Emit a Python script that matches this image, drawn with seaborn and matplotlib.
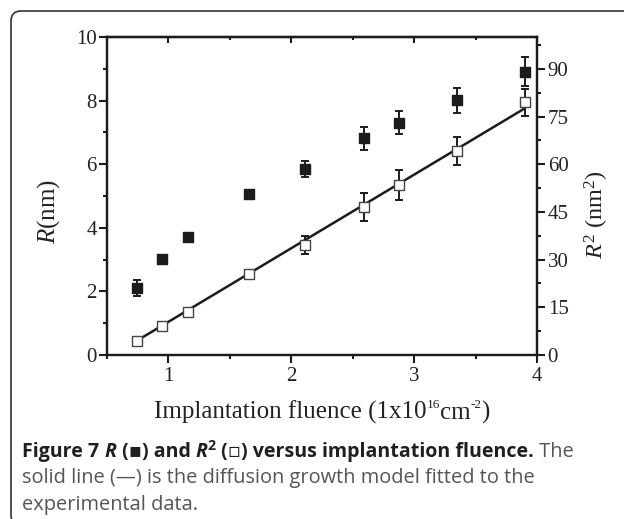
import numpy as np
import matplotlib
matplotlib.use("Agg")
import matplotlib.pyplot as plt
from matplotlib.patches import FancyBboxPatch
from matplotlib.ticker import MultipleLocator
import seaborn as sns
import pandas as pd

# Implantation fluence (1e16 cm^-2)
fluence = [0.75, 0.95, 1.16, 1.655, 2.115, 2.59, 2.88, 3.35, 3.90]
# Mean radius R (nm) and its error
radius = [2.10, 3.03, 3.70, 5.05, 5.86, 6.81, 7.31, 8.01, 8.91]
radius_err = [0.26, 0.10, 0.10, 0.12, 0.25, 0.36, 0.35, 0.39, 0.46]
# R^2 (nm^2) and its error
radius_sq = [4.5, 9.0, 13.6, 25.5, 34.5, 46.5, 53.5, 64.2, 79.5]
radius_sq_err = [0.9, 0.8, 0.8, 1.2, 2.8, 4.4, 4.7, 4.3, 4.2]
# Diffusion growth model fit (R^2 linear in fluence), end points
fit_fluence = [0.76, 3.90]
fit_r2 = [4.8, 77.6]

x_ticks = [1, 2, 3, 4]
y_left_ticks = [0, 2, 4, 6, 8, 10]
y_right_ticks = [0, 15, 30, 45, 60, 75, 90]

sns.set_style("ticks")
plt.rcParams["font.family"] = ["Liberation Serif", "DejaVu Serif"]
plt.rcParams["mathtext.fontset"] = "custom"
plt.rcParams["mathtext.rm"] = "Liberation Serif"
plt.rcParams["mathtext.it"] = "Liberation Serif:italic"
plt.rcParams["mathtext.bf"] = "Liberation Serif:bold"

W, H, DPI = 624, 519, 100
fig = plt.figure(figsize=(W / DPI, H / DPI), dpi=DPI)
fig.patch.set_facecolor("white")

left, right, top, bottom = 106.5, 537.3, 37, 355
ax = fig.add_axes([left / W, 1 - bottom / H, (right - left) / W, (bottom - top) / H])
ax2 = ax.twinx()

df = pd.DataFrame({"fluence": fluence, "R": radius, "R2": radius_sq})
fit_df = pd.DataFrame({"fluence": fit_fluence, "R2": fit_r2})

ink = "#1c1c1c"
txt_col = "#222222"
lw_axis = 1.6

# R (filled squares) on the left axis
ax.errorbar(fluence, radius, yerr=radius_err, fmt="none", ecolor=ink,
            elinewidth=1.4, capsize=3.2, capthick=1.4, zorder=2)
sns.scatterplot(data=df, x="fluence", y="R", ax=ax, marker="s", s=46,
                color=ink, edgecolor=ink, linewidth=1.0, zorder=3, legend=False)

# R^2 (open squares) and fit line on the right axis
ax2.errorbar(fluence, radius_sq, yerr=radius_sq_err, fmt="none", ecolor=ink,
             elinewidth=1.4, capsize=3.2, capthick=1.4, zorder=2)
sns.lineplot(data=fit_df, x="fluence", y="R2", ax=ax2, color=ink, linewidth=1.8,
             zorder=3, legend=False)
sns.scatterplot(data=df, x="fluence", y="R2", ax=ax2, marker="s", s=46,
                facecolor="white", edgecolor="#444444", linewidth=1.0, zorder=4,
                legend=False)

ax.set_xlim(0.5, 4)
ax.set_ylim(0, 10)
ax2.set_ylim(0, 100)
ax.set_xticks(x_ticks)
ax.set_yticks(y_left_ticks)
ax2.set_yticks(y_right_ticks)
ax.xaxis.set_minor_locator(MultipleLocator(0.5))
ax.yaxis.set_minor_locator(MultipleLocator(1))
ax2.yaxis.set_minor_locator(MultipleLocator(7.5))
ax.set_xlabel("")
ax.set_ylabel("")
ax2.set_ylabel("")

tick_font = 15
for a in (ax, ax2):
    for s in a.spines.values():
        s.set_visible(True)
        s.set_linewidth(lw_axis)
        s.set_color(ink)
ax.tick_params(axis="both", which="major", direction="out", length=5.5, width=1.5,
               color=ink, labelsize=tick_font, labelcolor=txt_col, pad=1.5)
ax.tick_params(axis="both", which="minor", direction="out", length=3, width=1.5,
               color=ink)
ax.tick_params(axis="x", which="major", pad=3)
ax2.tick_params(axis="y", which="major", direction="out", length=5.5, width=1.5,
                color=ink, labelsize=tick_font, labelcolor=txt_col, pad=2)
ax2.tick_params(axis="y", which="minor", direction="out", length=3, width=1.5,
                color=ink)

# mirrored ticks along the top edge, pointing inward
sec = ax.secondary_xaxis("top")
sec.set_xticks(x_ticks)
sec.xaxis.set_minor_locator(MultipleLocator(0.5))
sec.tick_params(which="major", direction="in", length=4, width=1.5, color=ink,
                labeltop=False)
sec.tick_params(which="minor", direction="in", length=2.5, width=1.5, color=ink)
sec.spines["top"].set_linewidth(lw_axis)

# caption frame: rounded corner at top-left, open to the right
frame = FancyBboxPatch((0.11, -0.06), 7.0, 5.08 + 0.06,
                       boxstyle="round,pad=0,rounding_size=0.1",
                       transform=fig.dpi_scale_trans, facecolor="none",
                       edgecolor="#333333", linewidth=1.2, clip_on=False)
fig.add_artist(frame)

fig.canvas.draw()
renderer = fig.canvas.get_renderer()


def run(pieces, x_px, y_px, family, align="left"):
    """Lay out text pieces on one baseline; x_px is left edge or centre."""
    made = []
    x = 0.0
    for txt, kw in pieces:
        kw = dict(kw)
        dy = kw.pop("dy", 0)
        t = fig.text(0, 0, txt, va="baseline", ha="left", family=family, **kw)
        w = t.get_window_extent(renderer).width
        made.append((t, x, dy))
        x += w
    start = x_px - x / 2 if align == "center" else x_px
    for t, off, dy in made:
        t.set_position(((start + off) / W, 1 - (y_px - dy) / H))


serif = ["Liberation Serif", "DejaVu Serif"]
lab = 18
sup = 9.5
lab_kw = dict(fontsize=lab, color=txt_col)
sup_kw = dict(fontsize=sup, color=txt_col, dy=11)

# x-axis label
run([("Implantation fluence (1x10", lab_kw), ("16", sup_kw), ("cm", lab_kw),
     ("-2", sup_kw), (")", lab_kw)], 322, 419, serif, align="center")

# y-axis labels
fig.text(48.5 / W, 1 - 212 / H, r"$R$(nm)", rotation=90, ha="center", va="center",
         fontsize=lab, color=txt_col)
fig.text(597 / W, 1 - 215 / H, r"$R^{2}$ (nm$^{2}$)", rotation=90, ha="center",
         va="center", fontsize=17.5, color=txt_col)

# caption text
sans = ["Open Sans", "DejaVu Sans"]
bold_col = "#1f1f1f"
reg_col = "#555555"
bsize = 14.1
rsize = 14.4
bold = dict(fontsize=bsize, fontweight="bold", color=bold_col)
reg = dict(fontsize=rsize, color=reg_col)
line1 = [
    ("Figure 7 ", bold),
    ("R", dict(bold, fontstyle="italic")),
    (" (\u25aa) and ", bold),
    ("R", dict(bold, fontstyle="italic")),
    ("2", dict(bold, fontsize=bsize * 0.72, dy=7)),
    (" (\u25ab) versus implantation fluence.", bold),
    (" The", reg),
]
run(line1, 22.5, 457, sans)
run([("solid line (\u2014) is the diffusion growth model fitted to the", reg)],
    22.5, 483.5, sans)
run([("experimental data.", reg)], 22.5, 510, sans)

fig.savefig("out.png", dpi=DPI, facecolor="white")
